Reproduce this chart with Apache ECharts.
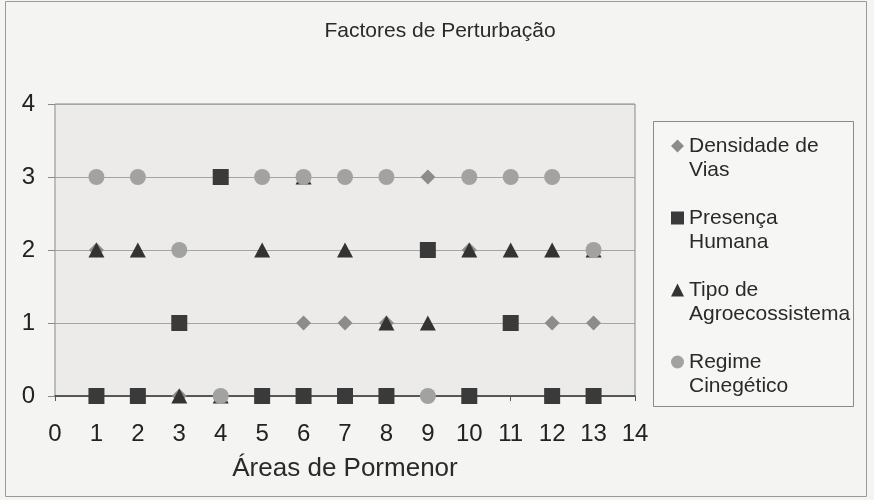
<!DOCTYPE html>
<html>
<head>
<meta charset="utf-8">
<script src="https://cdn.jsdelivr.net/npm/echarts@6/dist/echarts.min.js"></script>
<style>
  html, body { margin: 0; padding: 0; background: #f4f4f2; }
  #chart { width: 874px; height: 500px; }
</style>
</head>
<body>
<div id="chart"></div>
<script>
// Area numbers along the x axis
var areas = [1, 2, 3, 4, 5, 6, 7, 8, 9, 10, 11, 12, 13];

// Disturbance factor scores per area
var densidadeVias = [2, 0, 0, 0, 0, 1, 1, 1, 3, 2, 1, 1, 1];
var presencaHumana = [0, 0, 1, 3, 0, 0, 0, 0, 2, 0, 1, 0, 0];
var tipoAgro = [2, 2, 0, 0, 2, 3, 2, 1, 1, 2, 2, 2, 2];
var regimeCineg = [3, 3, 2, 0, 3, 3, 3, 3, 0, 3, 3, 3, 2];

var seriesNames = ['Densidade de Vias', 'Presença Humana', 'Tipo de Agroecossistema', 'Regime Cinegético'];
var legendLines = {
  'Densidade de Vias': 'Densidade de\nVias',
  'Presença Humana': 'Presença\nHumana',
  'Tipo de Agroecossistema': 'Tipo de\nAgroecossistema',
  'Regime Cinegético': 'Regime\nCinegético'
};

function pairs(vals) {
  return areas.map(function (a, i) { return [a, vals[i]]; });
}

var font = 'Liberation Sans, Arial, sans-serif';
var chart = echarts.init(document.getElementById('chart'), null, { renderer: 'canvas' });

chart.setOption({
  animation: false,
  backgroundColor: '#f4f4f2',
  title: {
    text: 'Factores de Perturbação',
    left: 440, textAlign: 'center', top: 21, padding: 0,
    textStyle: { fontFamily: font, fontSize: 21, fontWeight: 'normal', color: '#2a2a2a' }
  },
  graphic: [
    { type: 'rect', shape: { x: 5.5, y: 1.5, width: 861, height: 495 },
      style: { fill: null, stroke: '#9a9a9a', lineWidth: 1 }, z: -1 },
    { type: 'rect', shape: { x: 653.5, y: 121.5, width: 200, height: 285 },
      style: { fill: '#f6f6f4', stroke: '#8a8a8a', lineWidth: 1 }, z: -1 }
  ],
  legend: {
    orient: 'vertical',
    left: 671, top: 110, padding: 0,
    itemWidth: 13, itemHeight: 13, itemGap: 0,
    data: seriesNames,
    formatter: function (name) { return ' \n' + legendLines[name]; },
    textStyle: { fontFamily: font, fontSize: 21, color: '#2a2a2a', lineHeight: 24 }
  },
  grid: {
    left: 55, right: 239, top: 104, bottom: 104,
    show: true, backgroundColor: '#ecebe9', borderColor: '#8a8a8a', borderWidth: 1
  },
  xAxis: {
    type: 'value', min: 0, max: 14, interval: 1,
    name: 'Áreas de Pormenor', nameLocation: 'middle', nameGap: 60,
    nameTextStyle: { fontFamily: font, fontSize: 26, color: '#2a2a2a' },
    axisLine: { show: true, onZero: true, lineStyle: { color: '#3a3a3a', width: 1.5 } },
    axisTick: { show: true, length: 5, lineStyle: { color: '#555' } },
    axisLabel: { margin: 26, fontFamily: font, fontSize: 24, color: '#222' },
    splitLine: { show: false }
  },
  yAxis: {
    type: 'value', min: 0, max: 4, interval: 1,
    axisLine: { show: false },
    axisTick: { show: true, length: 7, lineStyle: { color: '#888' } },
    axisLabel: { margin: 20, fontFamily: font, fontSize: 24, color: '#222' },
    splitLine: { show: true, lineStyle: { color: '#a4a4a2', width: 1 } }
  },
  series: [
    { name: seriesNames[0], type: 'scatter', symbol: 'diamond', symbolSize: 15,
      itemStyle: { color: '#8c8c8a', opacity: 1 }, data: pairs(densidadeVias) },
    { name: seriesNames[1], type: 'scatter', symbol: 'rect', symbolSize: 16,
      itemStyle: { color: '#3a3a3a', opacity: 1 }, data: pairs(presencaHumana) },
    { name: seriesNames[2], type: 'scatter', symbol: 'triangle', symbolSize: [16, 15],
      itemStyle: { color: '#333333', opacity: 1 }, data: pairs(tipoAgro) },
    { name: seriesNames[3], type: 'scatter', symbol: 'circle', symbolSize: 16,
      itemStyle: { color: '#a2a2a0', opacity: 1 }, data: pairs(regimeCineg) }
  ]
});
</script>
</body>
</html>
